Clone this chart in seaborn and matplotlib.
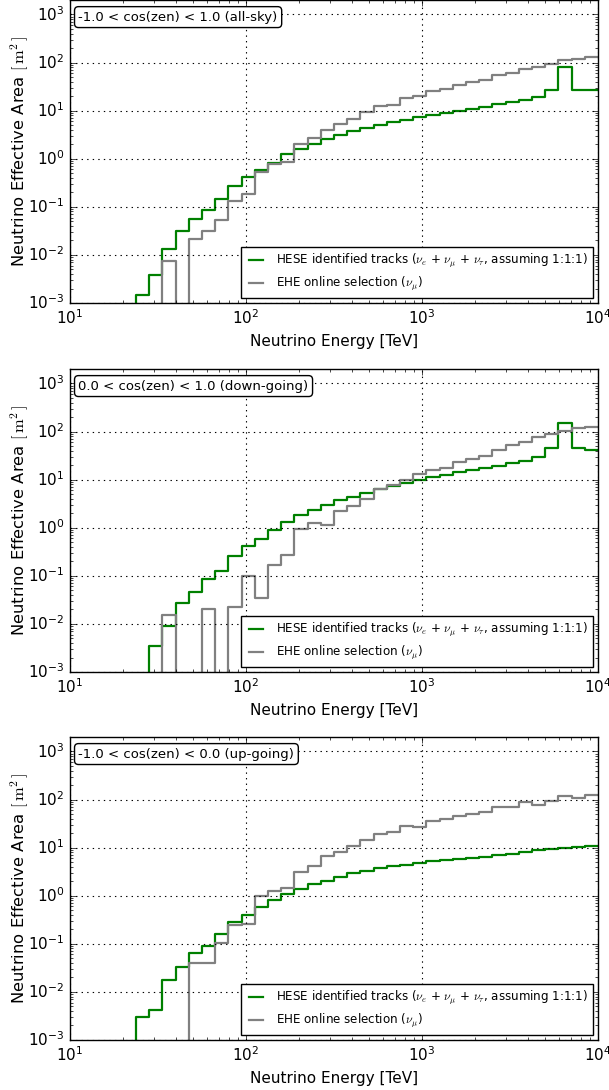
import numpy as np
import matplotlib
matplotlib.use("Agg")
import matplotlib.pyplot as plt
import seaborn as sns

# 40 log-spaced energy bins between 10 TeV and 10 PeV
bin_edges = np.logspace(1, 4, 41)

# panel labels
panel_labels = [
    "-1.0 < cos(zen) < 1.0 (all-sky)",
    "0.0 < cos(zen) < 1.0 (down-going)",
    "-1.0 < cos(zen) < 0.0 (up-going)",
]

# HESE identified tracks, effective area [m^2] per bin
hese_allsky = [0, 0, 0, 0, 0, 1.5e-3, 3.8e-3, 0.0135, 0.031, 0.056,
               0.085, 0.147, 0.276, 0.41, 0.58, 0.83, 1.23, 1.61, 2.04, 2.6,
               3.1, 3.7, 4.4, 5.0, 5.8, 6.5, 7.3, 8.1, 9.0, 9.8,
               10.8, 11.9, 13.5, 14.9, 16.9, 19.2, 27.2, 79, 27, 26.5]
hese_down = [0, 0, 0, 0, 0, 0, 3.45e-3, 8.9e-3, 0.0276, 0.047,
             0.084, 0.127, 0.255, 0.41, 0.57, 0.91, 1.29, 1.83, 2.32, 3.0,
             3.8, 4.45, 5.3, 6.3, 7.4, 8.5, 9.8, 11.3, 12.7, 14.4,
             15.8, 17.4, 19.5, 21.8, 23.9, 29, 44.5, 151, 44.5, 41.8]
hese_up = [0, 0, 0, 0, 0, 3.0e-3, 4.2e-3, 0.018, 0.033, 0.063,
           0.088, 0.158, 0.29, 0.40, 0.58, 0.8, 1.08, 1.4, 1.74, 2.07,
           2.47, 2.9, 3.24, 3.68, 4.05, 4.45, 4.8, 5.2, 5.4, 5.7,
           6.2, 6.5, 6.9, 7.5, 8.0, 8.8, 9.5, 9.8, 10.3, 11]

# EHE online selection, effective area [m^2] per bin
ehe_allsky = [0, 0, 0, 0, 0, 0, 0, 7.6e-3, 0, 0.021,
              0.031, 0.053, 0.133, 0.183, 0.52, 0.76, 0.87, 2.04, 2.7, 3.9,
              5.2, 6.7, 9.4, 12.7, 13.3, 18, 20, 25.9, 28.5, 34.5,
              40, 43, 55.6, 61, 75, 79, 95, 112, 117, 129]
ehe_down = [0, 0, 0, 0, 0, 0, 0, 0.0154, 0, 0,
            0.0204, 0, 0.0221, 0.098, 0.035, 0.169, 0.268, 0.92, 1.27, 1.13,
            2.25, 2.8, 4.0, 6.3, 7.9, 10, 13.1, 15.6, 17.4, 22.8,
            26.8, 30.9, 41.8, 52, 61, 76, 91, 105, 117, 127]
ehe_up = [0, 0, 0, 0, 0, 0, 0, 0, 0, 0.040,
          0.040, 0.103, 0.25, 0.26, 1.0, 1.27, 1.47, 3.1, 4.2, 6.6,
          8.1, 10.7, 14.7, 18.9, 20.8, 28, 27, 35.6, 40, 45,
          49, 54.7, 70.5, 70.5, 89.5, 76, 95, 117, 108, 127]

hese_series = [hese_allsky, hese_down, hese_up]
ehe_series = [ehe_allsky, ehe_down, ehe_up]

plt.style.use("classic")
plt.rcParams["font.size"] = 11
plt.rcParams["figure.facecolor"] = "white"

fig = plt.figure(figsize=(6.09, 10.9), dpi=100)
bottoms = [0.722, 0.3835, 0.0459]

for i in range(3):
    ax = fig.add_axes([0.115, bottoms[i], 0.867, 0.278])
    hese = np.append(hese_series[i], hese_series[i][-1])
    ehe = np.append(ehe_series[i], ehe_series[i][-1])
    sns.lineplot(x=bin_edges, y=hese, ax=ax, drawstyle="steps-post",
                 estimator=None, color=(0, 0.5, 0), lw=1.6,
                 label=r"HESE identified tracks ($\nu_e$ + $\nu_\mu$ + $\nu_\tau$, assuming 1:1:1)")
    sns.lineplot(x=bin_edges, y=ehe, ax=ax, drawstyle="steps-post",
                 estimator=None, color="gray", lw=1.6,
                 label=r"EHE online selection ($\nu_\mu$)")
    ax.set_xscale("log")
    ax.set_yscale("log")
    ax.set_xlim(10, 1e4)
    ax.set_ylim(1e-3, 2e3)
    ax.grid(True, which="major", color="k", linestyle=":", lw=0.8)
    ax.set_xlabel("Neutrino Energy [TeV]", fontsize=11)
    ax.set_ylabel(r"Neutrino Effective Area $[\,\mathrm{m}^2\,]$",
                  fontsize=11.8, labelpad=-2)
    ax.tick_params(labelsize=11)
    ax.text(0.016, 0.965, panel_labels[i], transform=ax.transAxes,
            fontsize=9.5, va="top", ha="left",
            bbox=dict(boxstyle="round,pad=0.3", fc="white", ec="k"))
    ax.legend(loc="lower right", fontsize=8.6, frameon=True,
              labelspacing=0.4, handlelength=1.8, borderaxespad=0.4)

fig.savefig("out.png", dpi=100, facecolor="white")
